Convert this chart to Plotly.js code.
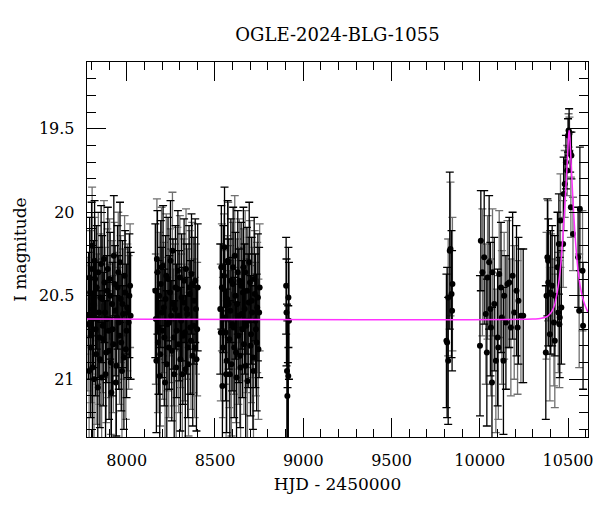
<!DOCTYPE html>
<html>
<head>
<meta charset="utf-8">
<script src="https://cdn.plot.ly/plotly-3.0.1.min.js"></script>
<style>html,body{margin:0;padding:0;background:#fff;}#chart{width:600px;height:512px;}</style>
</head>
<body>
<div id="chart"></div>
<script>
// Photometry with black error bars: HJD-2450000, I mag, error
const tBlack = [
7784,7790,7796,7801,7806,7812,7818,7824,7830,7836,7842,7848,7855,7861,7867,7874,7880,7887,7893,7900,7906,7913,7920,7927,7934,7941,7948,7955,7962,7969,7976,7984,7991,7999,8007,8015,8022,
8162,8168,8174,8180,8187,8193,8200,8206,8213,8220,8227,8234,8241,8248,8255,8262,8269,8276,8283,8290,8297,8304,8311,8318,8325,8332,8339,8346,8353,8360,8367,8374,8381,8388,8395,8402,
8530,8536,8542,8548,8554,8560,8566,8572,8578,8584,8590,8597,8603,8609,8616,8622,8629,8635,8642,8648,8655,8661,8668,8674,8681,8688,8694,8701,8708,8715,8722,8729,8736,8743,8750,
8903,8905,8908,8910,8913,8915,8916,8919,8911,
9811,9815,9821,9830,9840,9843,
10001,10006,10025,10040,10053,10060,10069,10082,10101,10120,10134,10148,10167,10186,10208,10219,10246,
10374,10383,10388,10400,10410,10425,10440,10448,10453,10462,10475,10488,10500,10506,10512,10519,10557,10567,10585
];
const mBlack = [
20.62,20.39,20.81,20.34,20.93,20.55,20.29,20.70,20.45,21.05,20.60,20.88,20.31,20.52,20.76,20.42,20.97,20.64,20.34,20.83,20.50,21.08,20.70,20.26,20.59,20.92,20.45,20.66,20.30,20.78,20.55,20.87,20.48,20.71,20.60,20.50,20.62,
20.47,20.89,20.36,20.69,20.98,20.43,20.60,20.32,20.75,20.52,20.91,20.40,20.66,20.29,20.83,20.55,20.97,20.45,20.71,20.35,20.62,20.88,20.51,20.74,20.41,20.94,20.58,20.81,20.45,20.69,20.37,20.86,20.53,20.41,20.88,20.45,
20.58,20.33,21.04,20.46,20.21,20.72,20.89,20.29,20.55,20.97,20.41,20.67,20.33,20.81,20.50,20.99,20.36,20.62,20.86,20.44,20.70,20.33,20.58,20.92,20.47,20.65,20.30,20.80,20.53,20.87,20.40,20.65,20.78,20.51,20.60,
20.44,20.60,20.95,21.10,21.50,20.98,20.51,20.65,21.75,
20.77,20.78,20.89,20.23,20.49,20.59,
20.80,20.17,20.27,20.84,20.30,20.58,21.02,20.55,20.75,20.45,20.89,20.66,20.42,20.38,20.47,20.53,20.62,
20.84,20.27,20.42,20.48,20.44,20.50,20.33,20.19,20.63,20.57,19.89,19.70,19.54,19.52,19.64,19.66,20.27,19.98,20.68
];
const eBlack = [
0.38,0.36,0.42,0.40,0.45,0.38,0.36,0.40,0.37,0.42,0.39,0.41,0.35,0.38,0.40,0.36,0.44,0.38,0.37,0.41,0.38,0.45,0.40,0.36,0.39,0.42,0.37,0.40,0.36,0.41,0.38,0.43,0.37,0.40,0.39,0.37,0.38,
0.40,0.43,0.37,0.40,0.45,0.38,0.39,0.36,0.41,0.38,0.44,0.37,0.40,0.36,0.42,0.39,0.44,0.37,0.40,0.36,0.39,0.43,0.38,0.41,0.37,0.44,0.39,0.42,0.37,0.40,0.36,0.42,0.38,0.37,0.43,0.38,
0.39,0.37,0.45,0.38,0.36,0.41,0.43,0.36,0.39,0.44,0.37,0.40,0.36,0.42,0.38,0.45,0.37,0.40,0.43,0.38,0.41,0.36,0.39,0.44,0.38,0.40,0.36,0.42,0.38,0.43,0.37,0.40,0.41,0.38,0.39,
0.29,0.32,0.40,0.45,0.60,0.42,0.30,0.35,0.70,
0.40,0.45,0.38,0.47,0.38,0.36,
0.42,0.30,0.40,0.44,0.40,0.40,0.45,0.40,0.41,0.39,0.44,0.40,0.39,0.38,0.39,0.38,0.40,
0.40,0.35,0.38,0.37,0.36,0.36,0.33,0.30,0.36,0.34,0.22,0.16,0.10,0.14,0.12,0.14,0.30,0.37,0.38
];

// Photometry with grey error bars
const tGrey = [
7781,7787,7793,7799,7804,7809,7815,7821,7827,7833,7839,7845,7851,7858,7864,7871,7877,7884,7890,7897,7903,7910,7917,7924,7931,7938,7945,7952,7959,7966,7973,7980,7988,7995,8003,8011,8019,
8165,8171,8177,8184,8190,8197,8203,8210,8217,8224,8231,8238,8245,8252,8259,8266,8273,8280,8287,8294,8301,8308,8315,8322,8329,8336,8343,8350,8357,8364,8371,8378,8385,8392,8399,
8533,8539,8545,8551,8557,8563,8569,8575,8581,8587,8593,8600,8606,8612,8619,8625,8632,8638,8645,8651,8658,8664,8671,8677,8684,8691,8698,8704,8711,8718,8725,8732,8739,8746,8753,
9821,9834,9845,
10015,10034,10044,10063,10072,10091,10105,10110,10125,10138,10157,10176,10195,10214,10233,
10378,10387,10397,10404,10420,10425,10445,10451,10457,10472,10481,10495,10503,10508,10516,10528,10563,10582
];
const mGrey = [
20.67,20.95,20.48,20.73,20.20,20.58,21.00,20.40,20.85,20.64,20.36,20.75,20.51,20.99,20.68,20.28,20.60,20.84,20.47,20.71,20.40,20.90,20.55,20.79,20.43,21.02,20.63,20.36,20.74,20.52,20.95,20.61,20.38,20.82,20.57,20.66,20.44,
20.64,20.28,20.78,20.50,20.85,20.33,20.71,20.57,21.02,20.38,20.67,20.81,20.48,20.62,20.23,20.75,20.58,20.93,20.46,20.79,20.39,20.65,20.97,20.54,20.72,20.34,20.61,20.91,20.49,20.77,20.43,20.68,20.81,20.58,20.70,
20.72,20.45,20.81,20.38,20.63,20.97,20.52,20.30,20.76,20.59,20.91,20.43,20.69,20.26,20.84,20.55,20.74,20.41,20.93,20.61,20.48,20.79,20.36,20.68,21.01,20.54,20.42,20.73,20.60,20.95,20.49,20.70,20.57,20.82,20.45,
20.51,20.22,20.43,
20.36,20.61,20.39,20.69,20.36,20.89,20.81,20.37,20.63,20.50,20.43,20.69,20.60,20.69,20.62,
20.50,20.29,20.73,20.49,20.66,20.77,20.60,20.67,20.05,20.19,19.83,19.75,19.51,19.53,19.97,20.13,20.59,20.35
];
const eGrey = [
0.40,0.43,0.37,0.41,0.35,0.39,0.44,0.37,0.42,0.39,0.36,0.40,0.38,0.44,0.40,0.35,0.39,0.42,0.37,0.40,0.36,0.43,0.38,0.41,0.37,0.45,0.39,0.36,0.41,0.38,0.44,0.39,0.36,0.42,0.38,0.40,0.37,
0.39,0.36,0.42,0.38,0.43,0.36,0.41,0.39,0.45,0.37,0.40,0.42,0.38,0.40,0.35,0.41,0.39,0.44,0.37,0.41,0.37,0.40,0.44,0.38,0.41,0.36,0.39,0.43,0.38,0.41,0.37,0.40,0.42,0.39,0.40,
0.41,0.38,0.42,0.37,0.40,0.44,0.38,0.36,0.41,0.39,0.43,0.37,0.40,0.36,0.42,0.39,0.41,0.37,0.44,0.40,0.38,0.42,0.37,0.40,0.45,0.39,0.37,0.41,0.39,0.44,0.38,0.40,0.39,0.42,0.38,
0.35,0.40,0.40,
0.38,0.42,0.37,0.41,0.38,0.43,0.43,0.38,0.40,0.38,0.38,0.41,0.40,0.40,0.40,
0.38,0.36,0.40,0.36,0.38,0.40,0.36,0.38,0.28,0.26,0.20,0.15,0.10,0.10,0.18,0.22,0.34,0.36
];

// Microlensing model curve
const tModel = [7775,10300,10350,10387,10410,10425,10440,10450,10460,10469,10476,10482,10489,10495,10500,10504,10506,10509,10513,10518,10525,10531,10538,10547,10557,10570,10582,10597,10613];
const mModel = [20.64,20.64,20.635,20.62,20.59,20.55,20.47,20.40,20.30,20.17,20.06,19.96,19.83,19.71,19.60,19.53,19.51,19.53,19.61,19.72,19.87,19.99,20.11,20.24,20.35,20.45,20.51,20.56,20.60];

const FONT = 'DejaVu Serif, Liberation Serif, serif';

const traces = [
  {x: tGrey, y: mGrey, type: 'scatter', mode: 'markers',
   marker: {color: 'black', size: 6},
   error_y: {type: 'data', array: eGrey, visible: true, color: '#707070', thickness: 1.3, width: 4},
   hoverinfo: 'skip', showlegend: false},
  {x: tBlack, y: mBlack, type: 'scatter', mode: 'markers',
   marker: {color: 'black', size: 6},
   error_y: {type: 'data', array: eBlack, visible: true, color: 'black', thickness: 1.3, width: 4},
   hoverinfo: 'skip', showlegend: false},
  {x: tModel, y: mModel, type: 'scatter', mode: 'lines',
   line: {color: '#ff33ff', width: 1.5, shape: 'spline', smoothing: 0.6},
   hoverinfo: 'skip', showlegend: false}
];

const layout = {
  width: 600, height: 512,
  margin: {l: 87, r: 12, t: 62, b: 75},
  paper_bgcolor: 'white', plot_bgcolor: 'white',
  font: {family: FONT, size: 16, color: 'black'},
  title: {text: 'OGLE-2024-BLG-1055', font: {family: FONT, size: 18, color: 'black'},
          x: 0.5625, xref: 'container', xanchor: 'center', y: 1 - 35/512, yref: 'container', yanchor: 'middle'},
  xaxis: {
    range: [7775, 10613], showgrid: false, zeroline: false,
    showline: true, linecolor: 'black', linewidth: 1.3, mirror: 'allticks',
    ticks: 'inside', ticklen: 19, tickwidth: 1, tickcolor: 'black',
    tick0: 8000, dtick: 500, tickformat: 'd',
    minor: {ticks: 'inside', dtick: 100, ticklen: 8, tickwidth: 1, tickcolor: 'black', showgrid: false},
    ticklabelstandoff: 8,
    tickfont: {family: FONT, size: 16, color: 'black'},
    title: {text: 'HJD - 2450000', font: {family: FONT, size: 17, color: 'black'}, standoff: 9}
  },
  yaxis: {
    range: [21.346, 19.1], showgrid: false, zeroline: false,
    showline: true, linecolor: 'black', linewidth: 1.3, mirror: 'allticks',
    ticks: 'inside', ticklen: 19, tickwidth: 1, tickcolor: 'black',
    tick0: 19.5, dtick: 0.5,
    minor: {ticks: 'inside', dtick: 0.1, ticklen: 9, tickwidth: 1, tickcolor: 'black', showgrid: false},
    ticklabelstandoff: 8,
    tickfont: {family: FONT, size: 16, color: 'black'},
    title: {text: 'I magnitude', font: {family: FONT, size: 17, color: 'black'}, standoff: 8}
  }
};

Plotly.newPlot('chart', traces, layout, {staticPlot: true, displayModeBar: false});
</script>
</body>
</html>
